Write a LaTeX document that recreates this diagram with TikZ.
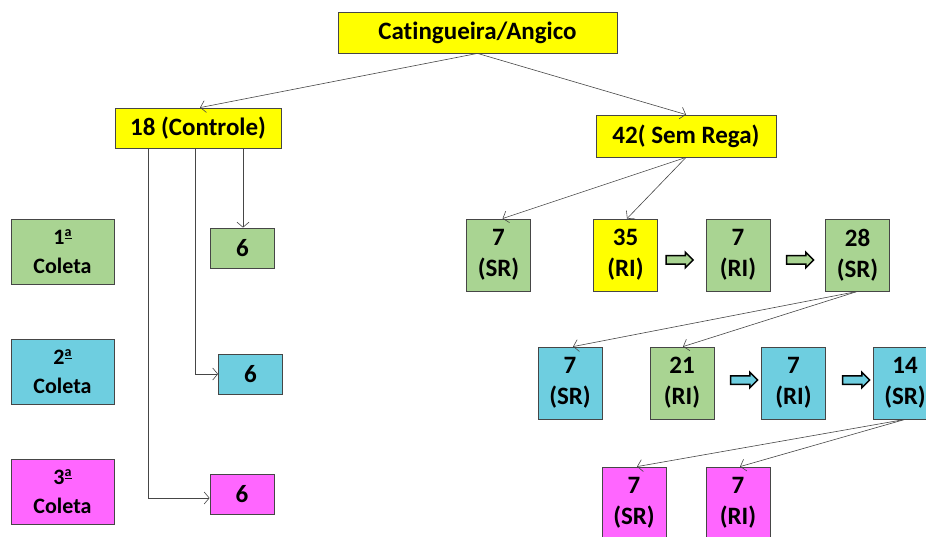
\documentclass[tikz,border=0pt]{standalone}
\usepackage{fontspec}
\setmainfont{Carlito}[Ligatures=NoCommon]
\usetikzlibrary{shapes.arrows,arrows.meta}
\definecolor{cyell}{RGB}{255,255,0}
\definecolor{cgreen}{RGB}{169,212,146}
\definecolor{ccyan}{RGB}{110,206,224}
\definecolor{cmag}{RGB}{255,102,255}
\definecolor{cedge}{RGB}{70,70,70}
% raised, underlined ordinal "a"
\newcommand\ordinalA{\raisebox{0.75ex}{\fontsize{14}{14}\selectfont\bfseries
  \underline{a}}}
\begin{document}
\begin{tikzpicture}[x=1pt,y=-1pt,
  box/.style={draw=cedge, line width=0.8pt, inner sep=0pt, align=center,
    font=\bfseries\fontsize{25}{31}\selectfont},
  smallbox/.style={box, minimum width=64, minimum height=40},
  tallbox/.style={box, minimum width=64, minimum height=72},
  coleta/.style={box, minimum width=103, minimum height=65,
    font=\bfseries\fontsize{22}{29}\selectfont},
  link/.style={draw=cedge, line width=0.6pt, -{Straight Barb[length=5pt,width=12pt]}},
  fatarrow/.style={single arrow, draw=black, line width=1.5pt, inner sep=3.5pt,
    minimum height=27, single arrow head extend=3.5pt},
]
\useasboundingbox (0,0) rectangle (926,537);

% top level
\node[box, fill=cyell, minimum width=279, minimum height=41] (top) at (477.5,32.5) {Catingueira/Angico};
\node[box, fill=cyell, minimum width=166, minimum height=40] (ctl) at (198,128) {18 (Controle)};
\node[box, fill=cyell, minimum width=180, minimum height=42] (sem) at (686,136) {42( Sem Rega)};
\draw[link] (top.south) -- ([xshift=2]ctl.north);
\draw[link] (top.south) -- (sem.north);

% legend
\node[coleta, fill=cgreen] (l1) at (62.5,251.5) {1\ordinalA\\Coleta};
\node[coleta, fill=ccyan]  (l2) at (62.5,371.5) {2\ordinalA\\Coleta};
\node[coleta, fill=cmag]   (l3) at (62.5,491.5) {3\ordinalA\\Coleta};

% control branch
\node[smallbox, fill=cgreen] (g6) at (242.5,248) {6};
\node[smallbox, fill=ccyan]  (c6) at (250.5,374) {6};
\node[smallbox, fill=cmag]   (m6) at (242,494) {6};
\draw[link] ([xshift=45]ctl.south) -- ([xshift=45]ctl.south |- g6.north);
\draw[link] ([xshift=-3]ctl.south) |- (c6.west);
\draw[link] ([xshift=-50]ctl.south) |- ([yshift=-4]m6.west);

% first collection
\node[tallbox, fill=cgreen] (a1) at (498.5,255) {7\\(SR)};
\node[tallbox, fill=cyell]  (a2) at (625.5,255) {35\\(RI)};
\node[tallbox, fill=cgreen] (a3) at (738,255) {7\\(RI)};
\node[tallbox, fill=cgreen] (a4) at (857.5,255) {28\\(SR)};
\node[fatarrow, fill=cgreen] (p1) at (677.5,260) {};
\node[fatarrow, fill=cgreen] (p2) at (798,260) {};
\draw[link] (sem.south) -- ([xshift=4]a1.north);
\draw[link] (sem.south) -- ([xshift=1.5]a2.north);

% second collection
\node[tallbox, fill=ccyan]  (b1) at (570,383) {7\\(SR)};
\node[tallbox, fill=cgreen] (b2) at (682,383) {21\\(RI)};
\node[tallbox, fill=ccyan]  (b3) at (793.5,383) {7\\(RI)};
\node[tallbox, fill=ccyan]  (b4) at (905,383) {14\\(SR)};
\node[fatarrow, fill=ccyan] (q1) at (742,380) {};
\node[fatarrow, fill=ccyan] (q2) at (854,380) {};
\draw[link] (a4.south) -- ([xshift=3]b1.north);
\draw[link] (a4.south) -- ([xshift=1]b2.north);

% third collection
\node[tallbox, fill=cmag] (c1) at (634,503) {7\\(SR)};
\node[tallbox, fill=cmag] (c2) at (738,503) {7\\(RI)};
\draw[link] (b4.south) -- ([xshift=3]c1.north);
\draw[link] (b4.south) -- ([xshift=2]c2.north);
\end{tikzpicture}
\end{document}
